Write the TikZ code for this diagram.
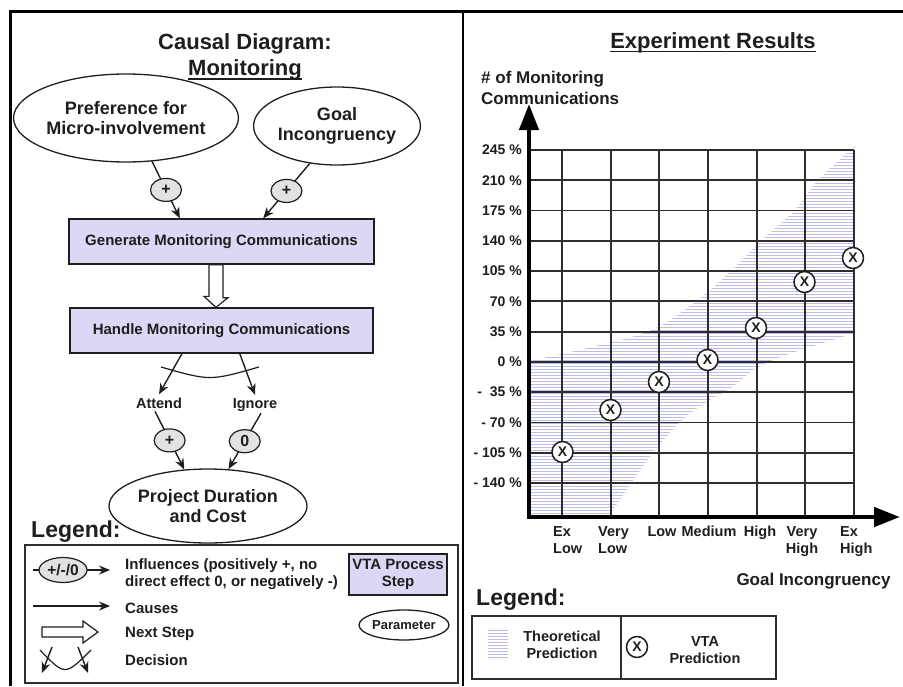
\documentclass[tikz,border=0pt]{standalone}
\usepackage{fontspec}
\setmainfont{Liberation Sans}
\usetikzlibrary{arrows.meta,shapes.geometric,calc}
\definecolor{vtafill}{RGB}{221,215,245}
\definecolor{inflfill}{RGB}{226,226,226}
\definecolor{ink}{RGB}{30,30,30}
\definecolor{gridc}{RGB}{45,45,45}
\definecolor{hatchc}{RGB}{188,188,234}
\newcommand\fsz[2]{\fontsize{#1}{#2}\selectfont\bfseries}

\begin{document}
\begin{tikzpicture}[x=1pt,y=-1pt,
  every node/.style={inner sep=0pt, text=ink},
  param/.style={ellipse, draw=ink, line width=1.3pt, fill=white, align=center, font=\fsz{18}{20}},
  stepbox/.style={rectangle, draw=ink, line width=1.3pt, fill=vtafill, align=center, font=\fsz{15}{17}},
  infl/.style={ellipse, draw=ink, line width=1.2pt, fill=inflfill, minimum width=31pt, minimum height=23pt, font=\fsz{16}{18}},
  cause/.style={draw=ink, line width=1.4pt, -{Stealth[length=11pt,width=9pt]}},
  hollow/.style={draw=ink, line width=1.2pt, fill=white, line join=miter},
  title/.style={font=\fsz{22}{24}},
  legtext/.style={font=\fsz{15}{17}, align=left},
  lbl/.style={font=\fsz{14.5}{17}},
  ylbl/.style={font=\fsz{14}{16}, anchor=east},
  gridline/.style={draw=gridc, line width=1.8pt},
  axis/.style={draw=black, line width=4.5pt, -{Triangle[length=26pt,width=19pt]}},
  vtamark/.style={circle, draw=ink, line width=1.5pt, fill=white, minimum size=21pt, font=\fsz{14}{16}},
  uline/.style={draw=ink, line width=1.8pt}
]
\useasboundingbox (0,0) rectangle (903,686);

% ---------- frame ----------
\draw[black, line width=3pt] (10,686) -- (10,11.5) -- (903,11.5);
\draw[black, line width=2pt] (463,11.5) -- (463,686);

% ---------- causal diagram ----------
\node[title, anchor=base] (ttl) at (245,49) {Causal Diagram:};
\node[title, anchor=base] (ttl2) at (245,75) {Monitoring};
\draw[uline] ($(ttl2.base west)+(0,4)$) -- ($(ttl2.base east)+(0,4)$);

\node[param, minimum width=182pt, minimum height=88pt] (pref) at (126,118) {Preference for\\Micro-involvement};
\node[param, minimum width=136pt, minimum height=78pt] (goal) at (337,126) {Goal\\Incongruency};

\node[stepbox, minimum width=305pt, minimum height=45pt] (gen) at (221.5,241.5) {Generate Monitoring Communications};
\node[stepbox, minimum width=303pt, minimum height=45pt] (hand) at (221.5,330.5) {Handle Monitoring Communications};

\draw[cause] (pref.-59) -- node[infl] {+} ($(gen.north west)!0.364!(gen.north east)$);
\draw[cause] (goal.-126) -- node[infl] {+} ($(gen.north west)!0.636!(gen.north east)$);

% next step
\draw[hollow] ($(gen.south)+(-12.5,0)$) -- ++(14,0) -- ++(0,33) -- ++(5,0)
  -- ($(hand.north)+(-5.5,0)$) -- ++(-12,-11) -- ++(5,0) -- cycle;

% decision
\node[font=\fsz{14.5}{17}, anchor=base] (attend) at (159,408) {Attend};
\node[font=\fsz{14.5}{17}, anchor=base] (ignore) at (255,408) {Ignore};
\draw[cause] ($(hand.south west)!0.37!(hand.south east)$) -- ($(attend.north)+(0,-3)$);
\draw[cause] ($(hand.south west)!0.56!(hand.south east)$) -- ($(ignore.north)+(0,-3)$);
\draw[draw=ink, line width=1.2pt] (161,367) .. controls (210,381) .. (259,367);

\node[param, minimum width=164pt, minimum height=74pt] (proj) at (208,506) {Project Duration\\and Cost};
\draw[cause] ($(attend.south)+(-4,3)$) -- node[infl] {+} (proj.123);
\draw[cause] ($(ignore.south)+(6,2)$) -- node[infl] {0} (proj.61.5);

% ---------- left legend ----------
\node[font=\fsz{23}{25}, anchor=base west] (legL) at (31,537) {Legend:};
\draw[draw=gridc, line width=1.5pt] (25,545) rectangle (458,683);

\coordinate (i0) at (33,570);
\coordinate (i1) at (110,570);
\draw[cause] (i0) -- node[infl, pos=0.39, minimum width=48pt, minimum height=25pt, font=\fsz{15.5}{17}] {+/-/0} (i1);
\node[legtext, anchor=west] (infltxt) at (125,574) {Influences (positively +, no\\direct effect 0, or negatively -)};

\node[stepbox, minimum width=98pt, minimum height=41pt] (vtakey) at (398,574.5) {VTA Process\\Step};

\coordinate (c0) at (33,606);
\coordinate (c1) at (110,606);
\draw[cause] (c0) -- (c1);
\node[legtext, anchor=base west] (causetxt) at (125,613) {Causes};

\draw[hollow] (42,627) -- (83,627) -- (83,621) -- (98,632) -- (83,643) -- (83,637) -- (42,637) -- cycle;
\node[legtext, anchor=base west] (nexttxt) at (125,637) {Next Step};

\node[param, minimum width=66pt, minimum height=30pt, font=\fsz{13}{15}] (paramkey) at (404,625) {Parameter};

\coordinate (d0) at (52,647);
\coordinate (d1) at (42,673);
\coordinate (d2) at (78,647);
\coordinate (d3) at (88,673);
\draw[cause] (d0) -- (d1);
\draw[cause] (d2) -- (d3);
\draw[draw=ink, line width=1.2pt] (40,650) .. controls (65,676) .. (91,650);
\node[legtext, anchor=base west] (dectxt) at (125,665) {Decision};

% ---------- experiment results ----------
\node[title, anchor=base] (ttlR) at (713,48) {Experiment Results};
\draw[uline] ($(ttlR.base west)+(0,3.5)$) -- ($(ttlR.base east)+(0,3.5)$);

\node[font=\fsz{17}{21}, anchor=west, align=left] (ylab) at (481,87.5) {\# of Monitoring\\Communications};

% theoretical prediction band
\begin{scope}
  \clip (529,517) -- plot[smooth, tension=0.55] coordinates {(529,361) (592,347) (652,330) (698,300) (732,270) (762,240) (795,210) (818,180) (855,146)}
    -- plot[smooth, tension=0.55] coordinates {(855,333) (792,353) (758,367) (732,387) (705,403) (682,420) (655,450) (632,482) (608,517)} -- cycle;
  \foreach \yy in {147,150,...,518} \draw[hatchc, line width=0.9pt] (529,\yy) -- (855,\yy);
\end{scope}

% grid
\foreach \i in {0,...,11} \draw[gridline] (529,{150+30.27*\i}) -- (854,{150+30.27*\i});
\foreach \i in {0,...,6} \draw[gridline] ({562+48.67*\i},150) -- ({562+48.67*\i},517);

% axes
\draw[axis] (529,519) -- (529,104);
\draw[axis] (527,517) -- (900,517);

% y labels
\foreach \v [count=\j from 0] in {245 \%,210 \%,175 \%,140 \%,105 \%,70 \%,35 \%,0 \%,-\ \ 35 \%,- 70 \%,- 105 \%,- 140 \%}
  \node[ylbl] (y\j) at (522,{150+30.27*\j}) {\v};

% x labels
\node[lbl, anchor=north west, align=left] (xa) at (553,526) {Ex\\Low};
\node[lbl, anchor=north west, align=left] (xb) at (598,526) {Very\\Low};
\node[lbl, anchor=north] (xc) at (662,526) {Low};
\node[lbl, anchor=north] (xd) at (709,526) {Medium};
\node[lbl, anchor=north] (xe) at (760,526) {High};
\node[lbl, anchor=north, align=center] (xf) at (802,526) {Very\\High};
\node[lbl, anchor=north west, align=left] (xg) at (840,526) {Ex\\High};

\node[font=\fsz{17}{20}, anchor=base] (xlab) at (813.5,585) {Goal Incongruency};

% VTA predictions
\node[vtamark] (m1) at (562.5,452) {X};
\node[vtamark] (m2) at (610.5,410) {X};
\node[vtamark] (m3) at (659,382) {X};
\node[vtamark] (m4) at (707.5,360) {X};
\node[vtamark] (m5) at (756,328) {X};
\node[vtamark] (m6) at (804.5,282) {X};
\node[vtamark] (m7) at (853,258) {X};

% ---------- right legend ----------
\node[font=\fsz{23}{25}, anchor=base west] (legR) at (476,605) {Legend:};
\draw[draw=gridc, line width=1.5pt] (472,616) rectangle (776,679);
\draw[draw=gridc, line width=1.5pt] (621,616) -- (621,679);
\foreach \yy in {630,633,...,658} \draw[hatchc, line width=0.9pt] (488,\yy) -- (508,\yy);
\node[lbl, align=center] (thtxt) at (562,645) {Theoretical\\Prediction};
\node[vtamark] (mkey) at (637,647) {X};
\node[lbl, align=center] (vtatxt) at (705,650) {VTA\\Prediction};
\end{tikzpicture}
\end{document}
